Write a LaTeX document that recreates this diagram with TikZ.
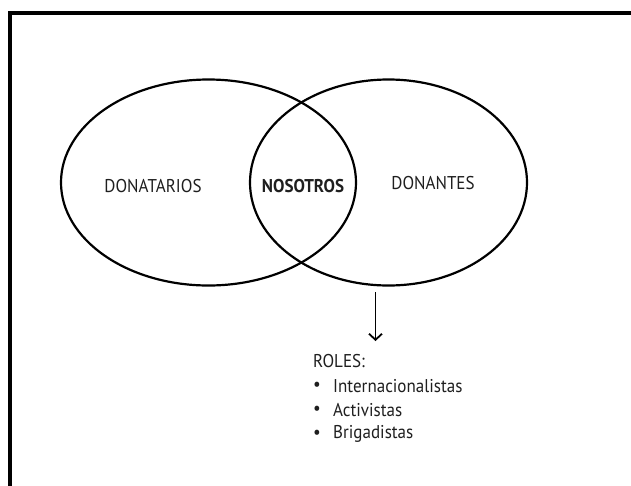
\documentclass[tikz,border=0pt]{standalone}
\usepackage{fontspec}
\setmainfont[FakeStretch=0.92]{PT Sans}
\usetikzlibrary{shapes.geometric,arrows.meta}
\begin{document}
\begin{tikzpicture}[x=1pt,y=-1pt,
  setellipse/.style={draw=black,line width=2.2pt,ellipse,inner sep=0pt},
  lbl/.style={font=\fontsize{18.5}{22}\selectfont,text=black!88,inner sep=0pt},
  item/.style={lbl,anchor=west},
  frameline/.style={line width=4pt,black}]
\useasboundingbox (0,0) rectangle (631,485);
\clip (0,0) rectangle (631,485);
\fill[white] (0,0) rectangle (631,485);
% frame (only top and left edges fall in the picture)
\draw[frameline] (10,700) -- (10,13) -- (900,13);
% sets
\node[setellipse,minimum width=295pt,minimum height=206pt] (left) at (208.5,182.5) {};
\node[setellipse,minimum width=277pt,minimum height=206pt] (right) at (388.5,182.5) {};
% labels
\node[lbl] (donatarios) at (153,186) {DONATARIOS};
\node[lbl,font=\fontsize{18.5}{22}\selectfont\bfseries] (nosotros) at (303,186) {NOSOTROS};
\node[lbl] (donantes) at (433,183) {DONANTES};
% roles
\coordinate (arrowstart) at (375.5,292);
\node[item] (roles) at (313,361) {ROLES:};
\coordinate (arrowend) at (375.5,341);
\draw[line width=1.8pt,-{Straight Barb[length=6pt,width=13pt]}] (arrowstart) -- (arrowend);
\node[item] (b1) at (313,386) {•};
\node[item] (i1) at (333,386) {Internacionalistas};
\node[item] (b2) at (313,410) {•};
\node[item] (i2) at (333,410) {Activistas};
\node[item] (b3) at (313,434) {•};
\node[item] (i3) at (333,434) {Brigadistas};
\end{tikzpicture}
\end{document}
